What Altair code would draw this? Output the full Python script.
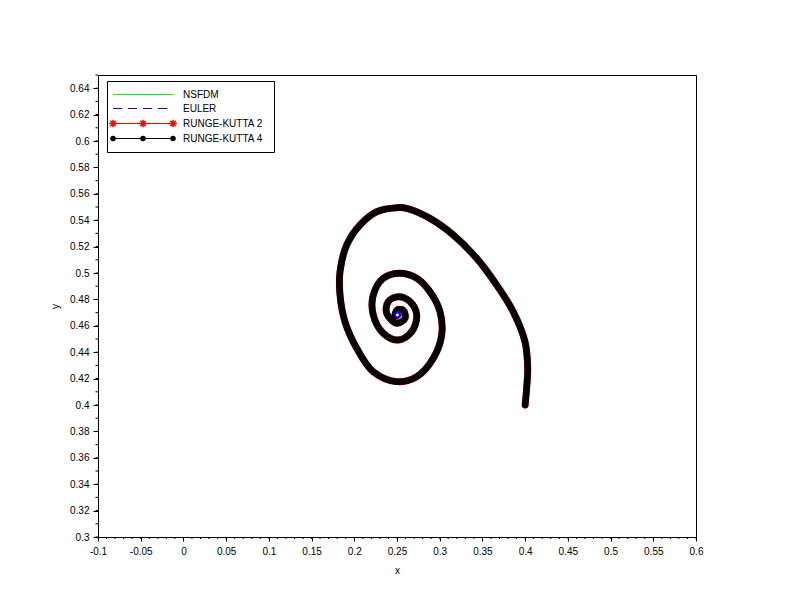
import altair as alt
import pandas as pd

# Trajectory (x, y), from the start (0.4, 0.4) spiralling inward
traj_x = [0.400, 0.402, 0.403, 0.3998, 0.386, 0.3667, 0.3433, 0.3159, 0.2886, 0.2613,
          0.2496, 0.2262, 0.2067, 0.1911, 0.1833, 0.1833, 0.1891, 0.2028, 0.2222, 0.2496,
          0.2731, 0.2925, 0.3023, 0.3003, 0.2886, 0.2731, 0.2535, 0.2340, 0.2222, 0.2222,
          0.2340, 0.2515, 0.2672, 0.2731, 0.2652, 0.2515, 0.2398, 0.2379, 0.2496, 0.2594,
          0.2570, 0.2500, 0.2477, 0.2505]
traj_y = [0.400, 0.415, 0.428, 0.448, 0.4707, 0.4909, 0.5111, 0.5288, 0.5414, 0.5490,
          0.5495, 0.5464, 0.5364, 0.5212, 0.5010, 0.4833, 0.4631, 0.4430, 0.4252, 0.4177,
          0.4214, 0.4354, 0.4530, 0.4707, 0.4858, 0.4960, 0.4998, 0.4960, 0.4833, 0.4682,
          0.4543, 0.4492, 0.4555, 0.4682, 0.4783, 0.4820, 0.4783, 0.4695, 0.4619, 0.4657,
          0.4720, 0.4720, 0.4674, 0.4682]

equilibrium_x = [0.2505]
equilibrium_y = [0.4682]

legend_labels = ["NSFDM", "EULER", "RUNGE-KUTTA 2", "RUNGE-KUTTA 4"]
legend_colors = ["#00ff00", "#0000ff", "#ff0000", "#000000"]

x_major = [-0.1, -0.05, 0.0, 0.05, 0.1, 0.15, 0.2, 0.25, 0.3, 0.35, 0.4, 0.45, 0.5, 0.55, 0.6]
x_minor = [round(-0.1 + 0.01 * i, 2) for i in range(71)]
y_major = [0.3, 0.32, 0.34, 0.36, 0.38, 0.4, 0.42, 0.44, 0.46, 0.48, 0.5, 0.52, 0.54,
           0.56, 0.58, 0.6, 0.62, 0.64]
y_minor = [round(0.30 + 0.01 * i, 2) for i in range(36)]

W, H = 598, 462
FONT = "Liberation Sans"

df = pd.DataFrame({"x": traj_x, "y": traj_y, "i": list(range(len(traj_x)))})

xscale = alt.Scale(domain=[-0.1, 0.6], nice=False, zero=False)
yscale = alt.Scale(domain=[0.3, 0.65], nice=False, zero=False)

xaxis = alt.Axis(
    values=x_major, grid=False, title="x", tickSize=4,
    labelExpr="replace(format(datum.value, '.2~f'), '\u2212', '-')",
    labelOverlap=False, labelFlush=False, labelPadding=5,
    titlePadding=9,
)
yaxis = alt.Axis(
    values=y_major, grid=False, title="y", tickSize=5,
    labelExpr="format(datum.value, '.2~f')",
    labelOverlap=False, labelFlush=False, labelPadding=4,
    titlePadding=9,
)

def X(field):
    return alt.X(field, scale=xscale, axis=xaxis)

def Y(field):
    return alt.Y(field, scale=yscale, axis=yaxis)

base = alt.Chart(df).encode(x=X("x:Q"), y=Y("y:Q"), order="i:Q")

green = base.mark_line(color="#00ff00", strokeWidth=1, interpolate="catmull-rom")
blue = base.mark_line(color="#0000ff", strokeWidth=1, strokeDash=[8, 6], interpolate="catmull-rom")
red = base.mark_line(color="#ff0000", strokeWidth=7, interpolate="catmull-rom",
                     strokeCap="round", strokeJoin="round")
black = base.mark_line(color="#000000", strokeWidth=6.5, interpolate="catmull-rom",
                       strokeCap="round", strokeJoin="round")

eq = alt.Chart(pd.DataFrame({"x": equilibrium_x, "y": equilibrium_y})).mark_point(
    shape="diamond", filled=True, fill="white", stroke="#0000ff", strokeWidth=2, size=45, opacity=1
).encode(x=X("x:Q"), y=Y("y:Q"))

# minor ticks
xm = alt.Chart(pd.DataFrame({"x": x_minor})).mark_rule(color="black", strokeWidth=1).encode(
    x=X("x:Q"), y=alt.value(H), y2=alt.value(H + 2)
)
ym = alt.Chart(pd.DataFrame({"y": y_minor})).mark_rule(color="black", strokeWidth=1).encode(
    y=Y("y:Q"), x=alt.value(0), x2=alt.value(-2.5)
)

# Legend (drawn as decoration in pixel space)
one = pd.DataFrame({"a": [0]})
legend_box = alt.Chart(one).mark_rect(fill="white", stroke="black", strokeWidth=1).encode(
    x=alt.value(9.5), x2=alt.value(176.5), y=alt.value(6.5), y2=alt.value(77.5)
)
row_y = [19.5, 33.5, 48.5, 63.5]
leg_lines = []
for k in range(4):
    kw = dict(color=legend_colors[k], strokeWidth=1)
    if k == 1:
        kw["strokeDash"] = [9, 6]
    leg_lines.append(
        alt.Chart(one).mark_rule(**kw).encode(
            x=alt.value(15), x2=alt.value(75), y=alt.value(row_y[k])
        )
    )
marker_px = [15, 45, 75]
mk = pd.DataFrame({"px": marker_px})
star_path = "M-1,0L1,0M0,-1L0,1M-0.7,-0.7L0.7,0.7M-0.7,0.7L0.7,-0.7"
red_marks = alt.Chart(mk).mark_point(shape=star_path, filled=False, stroke="#ff0000", strokeWidth=1.5,
                                     size=60, opacity=1).encode(
    x=alt.X("px:Q", scale=None), y=alt.value(row_y[2])
)
black_marks = alt.Chart(mk).mark_point(shape="circle", filled=True, color="#000000", size=30, opacity=1).encode(
    x=alt.X("px:Q", scale=None), y=alt.value(row_y[3])
)
lab = pd.DataFrame({"t": legend_labels, "py": row_y})
leg_text = alt.Chart(lab).mark_text(align="left", baseline="middle", font=FONT, fontSize=10, color="black").encode(
    x=alt.value(85), y=alt.Y("py:Q", scale=None), text="t:N"
)

chart = alt.layer(
    green, blue, red, black, eq, xm, ym, legend_box, *leg_lines, red_marks, black_marks, leg_text
).properties(
    width=W, height=H,
    padding={"left": 90, "top": 67, "right": 92, "bottom": 70},
    autosize=alt.AutoSizeParams(type="none"),
    background="white",
).configure_view(
    stroke="black", strokeWidth=1
).configure_axis(
    domainColor="black", tickColor="black", labelColor="black", titleColor="black",
    labelFont=FONT, titleFont=FONT, labelFontSize=10, titleFontSize=10,
    titleFontWeight="normal", domainWidth=1, tickWidth=1, labelOverlap=False,
)

chart.save("out.html", embed_options={"renderer": "svg", "actions": False})
